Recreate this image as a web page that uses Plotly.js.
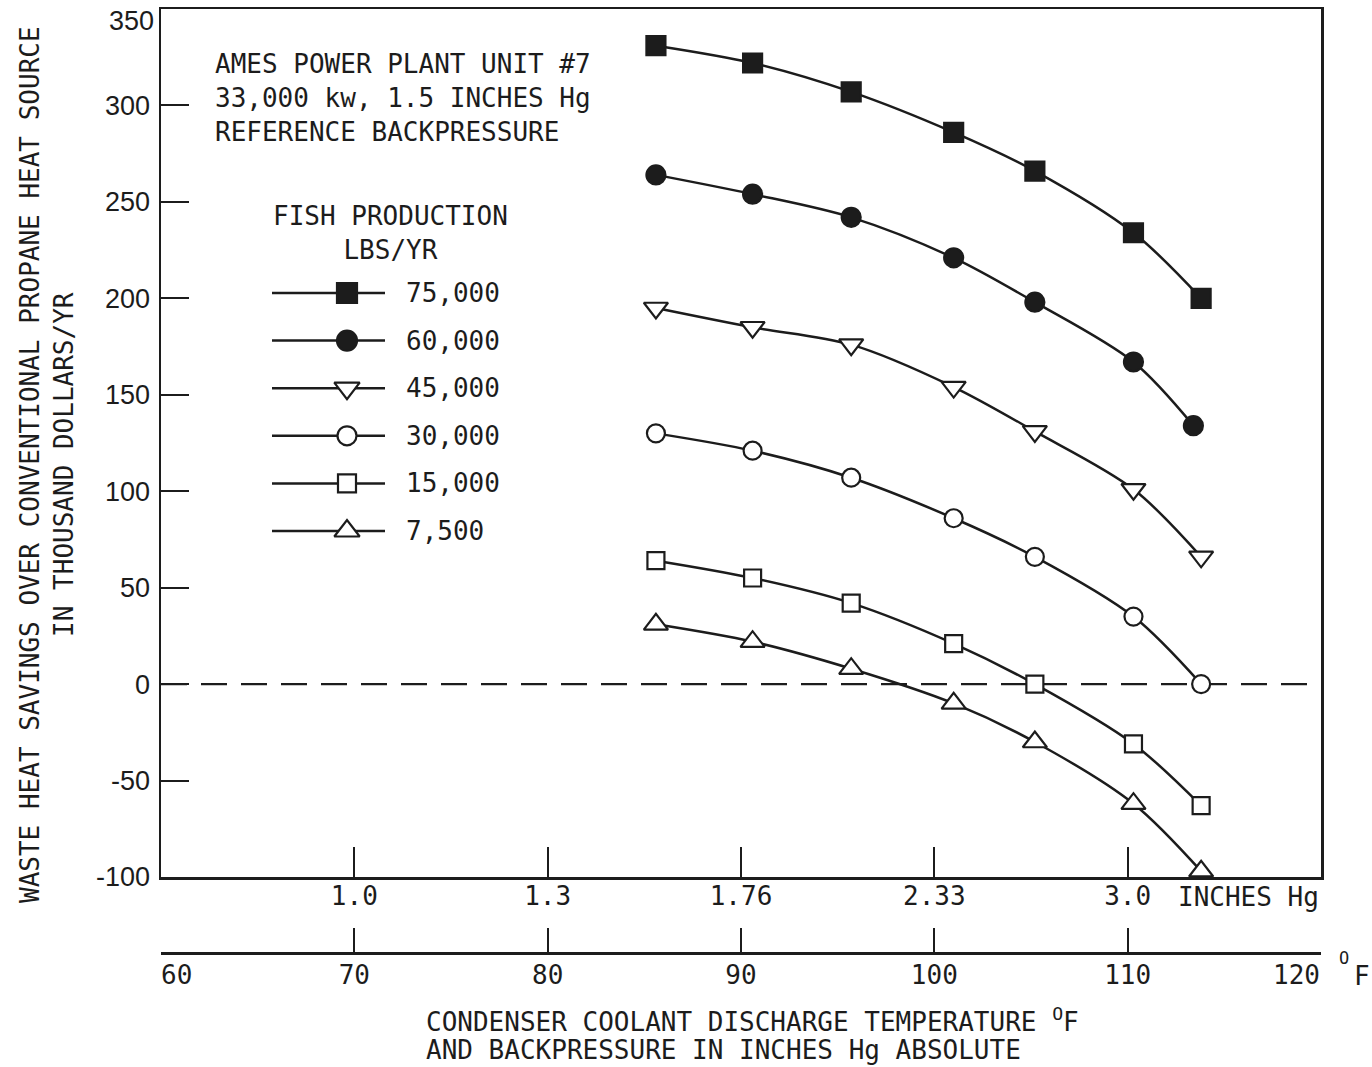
<!DOCTYPE html>
<html>
<head>
<meta charset="utf-8">
<script src="https://cdn.plot.ly/plotly-3.0.1.min.js"></script>
<style>html,body{margin:0;padding:0;background:#fff;} #chart{width:1372px;height:1067px;}</style>
</head>
<body>
<div id="chart"></div>
<script>
// ---- data ----
var tempF      = [85.6, 90.6, 95.7, 101.0, 105.2, 110.3, 113.8];
var tempF60k   = [85.6, 90.6, 95.7, 101.0, 105.2, 110.3, 113.4];
var save75000  = [331, 322, 307, 286, 266, 234, 200];
var save60000  = [264, 254, 242, 221, 198, 167, 134];
var save45000  = [195, 185, 176, 154, 131, 101, 66];
var save30000  = [130, 121, 107, 86, 66, 35, 0];
var save15000  = [64, 55, 42, 21, 0, -31, -63];
var save7500   = [31, 22, 8, -10, -30, -62, -97];
var seriesNames = ['75,000', '60,000', '45,000', '30,000', '15,000', '7,500'];
var hgTickTemps = [70, 80, 90, 100, 110];
var hgTickText  = ['1.0', '1.3', '1.76', '2.33', '3.0'];
var degTicks    = [60, 70, 80, 90, 100, 110, 120];
var degTickText = ['\u00a0\u00a060', '70', '80', '90', '100', '110', ''];
var degEndLabel = '120';
var yTicks      = [-100, -50, 0, 50, 100, 150, 200, 250, 300, 350];
var yTickText   = ['-100', '-50', '0', '50', '100', '150', '200', '250', '300', ''];
var yTopLabel   = '350';

// ---- styles ----
var INK = '#1c1c1c';
var MONO = 'DejaVu Sans Mono, Liberation Mono, monospace';
var SANS = 'Liberation Sans, Arial, sans-serif';
var styles = [
  {symbol: 'square',        color: INK,    size: 19},
  {symbol: 'circle',        color: INK,    size: 19},
  {symbol: 'triangle-down', color: '#fff', size: 21},
  {symbol: 'circle',        color: '#fff', size: 18},
  {symbol: 'square',        color: '#fff', size: 17},
  {symbol: 'triangle-up',   color: '#fff', size: 21}
];
var xs = [tempF, tempF60k, tempF, tempF, tempF, tempF];
var ys = [save75000, save60000, save45000, save30000, save15000, save7500];

// pixel -> paper helpers (plot area: x 161..1321, y 9..953)
function px(x) { return (x - 161) / 1160; }
function py(y) { return (953 - y) / 944; }

var traces = [];
for (var i = 0; i < ys.length; i++) {
  traces.push({
    x: xs[i], y: ys[i], xaxis: 'x', yaxis: 'y',
    mode: 'lines+markers', name: seriesNames[i],
    line: {color: INK, width: 2.5, shape: 'spline', smoothing: 0.9},
    marker: {symbol: styles[i].symbol, size: styles[i].size, color: styles[i].color,
             line: {color: INK, width: 2.2}},
    hoverinfo: 'skip', showlegend: false, cliponaxis: false
  });
}
// invisible trace so that the °F axis is drawn
traces.push({x: [degTicks[0], degTicks[degTicks.length-1]], y: [null, null], xaxis: 'x2', yaxis: 'y',
             mode: 'markers', showlegend: false, hoverinfo: 'skip'});

// ---- custom legend (drawn on a hidden pixel-like axis) ----
var legX0 = 272, legXm = 347, legX1 = 385, legTextX = 404;
var legY0 = 293, legDy = 47.6;
var annotations = [];
for (var j = 0; j < seriesNames.length; j++) {
  var ly = legY0 + j * legDy;
  traces.push({
    x: [legX0, legX1], y: [ly, ly], xaxis: 'x3', yaxis: 'y3',
    mode: 'lines', showlegend: false, hoverinfo: 'skip',
    line: {color: INK, width: 2.5}
  });
  traces.push({
    x: [legXm], y: [ly], xaxis: 'x3', yaxis: 'y3',
    mode: 'markers', showlegend: false, hoverinfo: 'skip', cliponaxis: false,
    marker: {symbol: styles[j].symbol, size: styles[j].size + 1, color: styles[j].color,
             line: {color: INK, width: 2.2}}
  });
  annotations.push({xref: 'paper', yref: 'paper', x: px(legTextX), y: py(ly), xanchor: 'left', yanchor: 'middle',
                    text: seriesNames[j], showarrow: false, font: {family: MONO, size: 26, color: INK}});
}

annotations.push(
  {xref: 'paper', yref: 'paper', x: px(213), y: py(98), xanchor: 'left', yanchor: 'middle', align: 'left',
   text: 'AMES POWER PLANT UNIT #7<br>33,000 kw, 1.5 INCHES Hg<br>REFERENCE BACKPRESSURE',
   showarrow: false, font: {family: MONO, size: 26, color: INK}},
  {xref: 'paper', yref: 'paper', x: px(390), y: py(233), xanchor: 'center', yanchor: 'middle', align: 'center',
   text: 'FISH PRODUCTION<br>LBS/YR', showarrow: false, font: {family: MONO, size: 26, color: INK}},
  {xref: 'paper', yref: 'paper', x: px(1176), y: py(897), xanchor: 'left', yanchor: 'middle',
   text: 'INCHES Hg', showarrow: false, font: {family: MONO, size: 26, color: INK}},
  {xref: 'paper', yref: 'paper', x: px(156), y: py(21), xanchor: 'right', yanchor: 'middle',
   text: yTopLabel, showarrow: false, font: {family: SANS, size: 27, color: INK}},
  {xref: 'paper', yref: 'paper', x: px(1296), y: py(975), xanchor: 'center', yanchor: 'middle',
   text: degEndLabel, showarrow: false, font: {family: MONO, size: 26, color: INK}},
  {xref: 'paper', yref: 'paper', x: px(1337), y: py(958), xanchor: 'left', yanchor: 'middle',
   text: 'O', showarrow: false, font: {family: MONO, size: 17, color: INK}},
  {xref: 'paper', yref: 'paper', x: px(1352), y: py(976), xanchor: 'left', yanchor: 'middle',
   text: 'F', showarrow: false, font: {family: MONO, size: 26, color: INK}},
  {xref: 'paper', yref: 'paper', x: px(424), y: py(1020), xanchor: 'left', yanchor: 'middle',
   text: 'CONDENSER COOLANT DISCHARGE TEMPERATURE <sup>O</sup>F',
   showarrow: false, font: {family: MONO, size: 26, color: INK}},
  {xref: 'paper', yref: 'paper', x: px(424), y: py(1050), xanchor: 'left', yanchor: 'middle',
   text: 'AND BACKPRESSURE IN INCHES Hg ABSOLUTE',
   showarrow: false, font: {family: MONO, size: 26, color: INK}},
  {xref: 'paper', yref: 'paper', x: px(47), y: py(465), xanchor: 'center', yanchor: 'middle', align: 'center',
   textangle: -90,
   text: 'WASTE HEAT SAVINGS OVER CONVENTIONAL PROPANE HEAT SOURCE<br>IN THOUSAND DOLLARS/YR',
   showarrow: false, font: {family: MONO, size: 26, color: INK}}
);

var layout = {
  width: 1372, height: 1067,
  margin: {l: 161, r: 51, t: 9, b: 114},
  paper_bgcolor: '#fff', plot_bgcolor: 'rgba(0,0,0,0)',
  showlegend: false,
  xaxis: {
    anchor: 'y', range: [60, 120], tickmode: 'array', tickvals: hgTickTemps, ticktext: hgTickText,
    ticks: 'inside', ticklen: 30, tickwidth: 2, tickcolor: INK,
    showline: true, linewidth: 2.5, linecolor: INK, mirror: true,
    showgrid: false, zeroline: false, ticklabelstandoff: -6,
    tickfont: {family: MONO, size: 26, color: INK}
  },
  xaxis2: {
    overlaying: 'x', anchor: 'free', position: 0, side: 'bottom', range: [60, 120],
    tickmode: 'array', tickvals: degTicks, ticktext: degTickText,
    ticks: 'inside', ticklen: 24, tickwidth: 2, tickcolor: INK,
    showline: true, linewidth: 2.5, linecolor: INK,
    showgrid: false, zeroline: false, ticklabelstandoff: -2,
    tickfont: {family: MONO, size: 26, color: INK}
  },
  yaxis: {
    domain: [(953-877)/944, 1], range: [-100, 350], tickmode: 'array', tickvals: yTicks, ticktext: yTickText,
    ticks: 'inside', ticklen: 28, tickwidth: 2, tickcolor: INK,
    showline: true, linewidth: 2.5, linecolor: INK, mirror: true,
    showgrid: false, zeroline: false, ticklabelstandoff: 3,
    tickfont: {family: SANS, size: 27, color: INK}
  },
  xaxis3: {domain: [0, 1], range: [161, 1321], visible: false, anchor: 'y3', fixedrange: true},
  yaxis3: {domain: [0, 1], range: [953, 9], visible: false, anchor: 'x3', fixedrange: true},
  shapes: [{type: 'line', xref: 'x', yref: 'y', x0: 60, x1: 120, y0: 0, y1: 0,
            line: {color: INK, width: 2.2, dash: '26px,14px'}, layer: 'below'}],
  annotations: annotations
};

Plotly.newPlot('chart', traces, layout, {staticPlot: true, displayModeBar: false});
</script>
</body>
</html>
